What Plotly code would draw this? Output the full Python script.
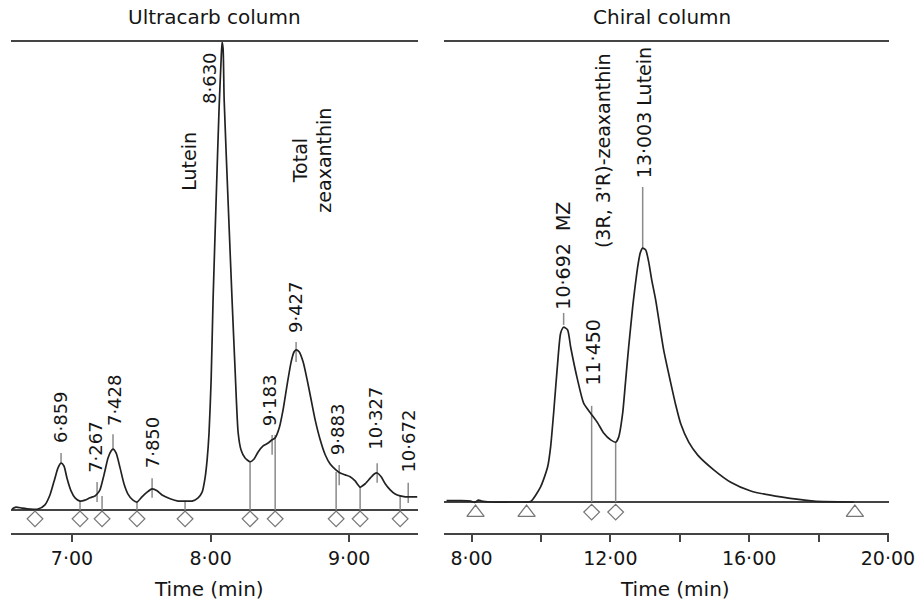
import plotly.graph_objects as go

# ---------------- data: Ultracarb column ----------------
ultra_time = [6.567, 6.596, 6.639, 6.697, 6.755, 6.805, 6.841, 6.877, 6.899, 6.921, 6.942, 6.964, 6.993,
              7.022, 7.058, 7.094, 7.130, 7.166, 7.181, 7.202, 7.231, 7.260, 7.282, 7.296, 7.318, 7.347,
              7.375, 7.404, 7.440, 7.469, 7.505, 7.542, 7.578, 7.614, 7.650, 7.708, 7.765, 7.816, 7.866,
              7.910, 7.939, 7.960, 7.975, 7.989, 8.004, 8.018, 8.040, 8.061, 8.076, 8.083, 8.090, 8.098,
              8.126, 8.155, 8.177, 8.199, 8.220, 8.249, 8.285, 8.314, 8.343, 8.379, 8.415, 8.444, 8.466,
              8.495, 8.523, 8.552, 8.581, 8.603, 8.617, 8.639, 8.668, 8.697, 8.726, 8.755, 8.791, 8.827,
              8.863, 8.906, 8.935, 8.971, 9.007, 9.043, 9.079, 9.116, 9.152, 9.181, 9.202, 9.231, 9.260,
              9.296, 9.332, 9.368, 9.404, 9.440, 9.491]
ultra_signal = [0.2, 0.6, 0.4, 0.2, 0.2, 1.1, 3.2, 6.8, 9.0, 10.0, 9.4, 6.8, 4.1,
                2.6, 1.9, 2.1, 2.6, 3.0, 3.4, 4.3, 7.5, 11.1, 12.6, 13.0, 12.2, 9.0,
                5.6, 3.4, 2.1, 1.7, 2.8, 3.8, 4.5, 4.1, 3.2, 2.4, 1.9, 1.9, 1.9,
                2.6, 3.8, 6.8, 10.7, 16.5, 27.8, 44.9, 66.2, 85.5, 96.2, 100.0, 98.7, 87.6,
                66.2, 44.9, 29.9, 16.5, 12.8, 11.1, 10.3, 10.9, 12.4, 13.7, 14.3, 15.0, 15.4,
                17.5, 21.4, 26.7, 31.6, 33.8, 34.2, 33.8, 31.6, 27.8, 23.5, 19.2, 15.0, 11.8,
                9.8, 8.5, 7.9, 7.5, 7.1, 6.2, 4.9, 5.6, 6.8, 7.7, 7.9, 7.1, 5.6,
                4.3, 3.4, 3.0, 2.8, 2.8, 2.8]

# peak labels (retention times) and where they sit
ultra_peak_text = ["6·859", "7·267", "7·428", "7·850", "9·183", "9·427", "9·883", "10·327", "10·672"]
ultra_peak_time = [6.921, 7.173, 7.303, 7.578, 8.422, 8.617, 8.913, 9.188, 9.426]
ultra_label_base = [13.9, 7.5, 17.5, 8.5, 17.5, 37.4, 11.3, 12.4, 7.5]
# short marker ticks at peaks
ultra_tick_time = [6.921, 7.181, 7.296, 7.578, 8.444, 8.617, 8.928, 9.202, 9.426]
ultra_tick_lo = [10.0, 1.7, 12.8, 2.6, 11.8, 31.6, 5.3, 5.8, 1.5]
ultra_tick_hi = [12.2, 6.0, 16.2, 6.8, 16.0, 35.9, 9.6, 10.0, 5.8]
# integration boundaries (drop lines + diamonds)
ultra_drop_time = [7.058, 7.217, 7.469, 7.816, 8.285, 8.466, 8.906, 9.079, 9.368]
ultra_drop_top = [1.9, 3.0, 1.7, 1.9, 10.3, 16.0, 8.1, 4.9, 3.0]
ultra_diamond_time = [6.733, 7.058, 7.217, 7.469, 7.816, 8.285, 8.466, 8.906, 9.079, 9.368]

# ---------------- data: Chiral column ----------------
chiral_time = [7.279, 7.683, 7.971, 8.087, 8.202, 8.288, 8.548, 9.125, 9.471, 9.702, 9.990, 10.192,
               10.279, 10.365, 10.481, 10.567, 10.654, 10.769, 10.856, 11.057, 11.230, 11.432, 11.634,
               11.807, 12.009, 12.153, 12.240, 12.355, 12.442, 12.528, 12.644, 12.701, 12.788, 12.860,
               12.932, 13.019, 13.105, 13.192, 13.307, 13.538, 13.740, 13.884, 14.028, 14.259, 14.519,
               14.980, 15.470, 16.047, 16.913, 17.864, 19.018]
chiral_signal = [0.3, 0.3, 0.2, -0.1, 0.4, 0.2, 0.0, 0.0, 0.0, 0.1, 3.3, 7.6,
                 12.0, 19.3, 30.2, 36.7, 38.0, 37.4, 33.7, 26.5, 21.5, 19.3, 17.2,
                 15.0, 13.5, 13.0, 14.1, 19.3, 26.5, 33.7, 42.4, 46.1, 51.1, 54.1,
                 55.2, 54.8, 52.2, 48.3, 43.9, 33.0, 25.9, 21.1, 17.0, 13.0, 10.2,
                 7.0, 4.3, 2.4, 1.1, 0.2, 0.0]
chiral_label_text = ["10·692  MZ", "11·450", "(3R, 3'R)-zeaxanthin", "13·003 Lutein"]
chiral_label_time = [10.625, 11.49, 11.807, 12.961]
chiral_label_base = [41.3, 24.8, 54.8, 70.0]
chiral_tick_time = [10.654, 12.932]
chiral_tick_lo = [38.5, 55.2]
chiral_tick_hi = [41.1, 68.5]
chiral_drop_time = [11.461, 12.153]
chiral_drop_top = [20.9, 13.0]
chiral_triangle_time = [8.115, 9.586, 19.047]
chiral_diamond_time = [11.461, 12.153]

# ---------------- styling ----------------
FONT = "DejaVu Sans"
TXT = "#151515"
CURVE = "#222222"
GREY = "#8a8a8a"
AXC = "#444444"
W, H = 915, 603          # reference frame used for placing the panels
FIG_W = 942              # the page viewport squeezes horizontally; compensate


def segs(xs, lo, hi):
    X, Y = [], []
    for x, a, b in zip(xs, lo, hi):
        X += [x, x, None]
        Y += [a, b, None]
    return X, Y


fig = go.Figure()

# drop lines and peak ticks
for xs, lo, hi, xa, ya in [
    (ultra_drop_time, [0] * len(ultra_drop_time), ultra_drop_top, "x", "y"),
    (ultra_tick_time, ultra_tick_lo, ultra_tick_hi, "x", "y"),
    (chiral_drop_time, [0] * len(chiral_drop_time), chiral_drop_top, "x2", "y2"),
    (chiral_tick_time, chiral_tick_lo, chiral_tick_hi, "x2", "y2"),
]:
    X, Y = segs(xs, lo, hi)
    fig.add_trace(go.Scatter(x=X, y=Y, mode="lines", xaxis=xa, yaxis=ya,
                             line=dict(color=GREY, width=1.5), hoverinfo="skip"))

# chromatograms
fig.add_trace(go.Scatter(x=ultra_time, y=ultra_signal, mode="lines", xaxis="x", yaxis="y",
                         line=dict(color=CURVE, width=1.7, shape="spline", smoothing=0.6)))
fig.add_trace(go.Scatter(x=chiral_time, y=chiral_signal, mode="lines", xaxis="x2", yaxis="y2",
                         line=dict(color=CURVE, width=1.7, shape="spline", smoothing=0.6)))

# boundary markers
fig.add_trace(go.Scatter(x=ultra_diamond_time, y=[-1.9] * len(ultra_diamond_time), mode="markers",
                         xaxis="x", yaxis="y", cliponaxis=False,
                         marker=dict(symbol="diamond-open", size=12, color="#777", line=dict(width=1.3))))
fig.add_trace(go.Scatter(x=chiral_diamond_time, y=[-2.2] * len(chiral_diamond_time), mode="markers",
                         xaxis="x2", yaxis="y2", cliponaxis=False,
                         marker=dict(symbol="diamond-open", size=12, color="#777", line=dict(width=1.3))))
fig.add_trace(go.Scatter(x=chiral_triangle_time, y=[-2.3] * len(chiral_triangle_time), mode="markers",
                         xaxis="x2", yaxis="y2", cliponaxis=False,
                         marker=dict(symbol="triangle-up-open", size=15, color="#777", line=dict(width=1.3))))

ann = []
for t, x, b in zip(ultra_peak_text, ultra_peak_time, ultra_label_base):
    ann.append(dict(x=x, y=b, xref="x", yref="y", text=t, textangle=-90, showarrow=False,
                    xanchor="center", yanchor="bottom", font=dict(size=18)))
ann.append(dict(x=7.996, y=98.3, xref="x", yref="y", text="8·630", textangle=-90, showarrow=False,
                xanchor="center", yanchor="top", font=dict(size=18)))
ann.append(dict(x=7.845, y=67.7, xref="x", yref="y", text="Lutein", textangle=-90, showarrow=False,
                xanchor="center", yanchor="bottom"))
ann.append(dict(x=8.737, y=74.8, xref="x", yref="y", text="Total<br>zeaxanthin", textangle=-90,
                showarrow=False, xanchor="center", yanchor="middle", align="center"))
for t, x, b in zip(chiral_label_text, chiral_label_time, chiral_label_base):
    ann.append(dict(x=x, y=b, xref="x2", yref="y2", text=t, textangle=-90, showarrow=False,
                    xanchor="center", yanchor="bottom"))

# panel titles and axis titles
ann.append(dict(x=0.5, y=1 - 17 / H, xref="x domain", yref="paper", text="Ultracarb column",
                showarrow=False, xanchor="center", yanchor="middle", font=dict(size=20)))
ann.append(dict(x=0.489, y=1 - 17 / H, xref="x2 domain", yref="paper", text="Chiral column",
                showarrow=False, xanchor="center", yanchor="middle", font=dict(size=20)))
ann.append(dict(x=0.486, y=1 - 589 / H, xref="x domain", yref="paper", text="Time (min)",
                showarrow=False, xanchor="center", yanchor="middle", font=dict(size=20)))
ann.append(dict(x=0.518, y=1 - 589 / H, xref="x2 domain", yref="paper", text="Time (min)",
                showarrow=False, xanchor="center", yanchor="middle", font=dict(size=20)))

ydom = [1 - 533 / H, 1 - 42 / H]
xcommon = dict(showgrid=False, zeroline=False, showline=True, mirror=True, linecolor=AXC, linewidth=2,
               ticks="outside", ticklen=7, tickwidth=2, tickcolor=AXC,
               tickfont=dict(size=19, color=TXT, family=FONT))
ycommon = dict(showgrid=False, showticklabels=False, ticks="", showline=False,
               zeroline=True, zerolinecolor=AXC, zerolinewidth=2)

fig.update_layout(
    width=FIG_W, height=H, margin=dict(l=0, r=0, t=0, b=0), autosize=False,
    paper_bgcolor="white", plot_bgcolor="white", showlegend=False,
    font=dict(family=FONT, size=19, color=TXT),
    xaxis=dict(domain=[11 / W, 418 / W], range=[6.56, 9.50], anchor="y",
               tickvals=[7, 8, 9], ticktext=["7·00", "8·00", "9·00"], **xcommon),
    yaxis=dict(domain=ydom, range=[-4.92, 100], anchor="x", **ycommon),
    xaxis2=dict(domain=[444 / W, 888 / W], range=[7.22, 20.03], anchor="y2",
                tickvals=[8, 10, 12, 14, 16, 18, 20],
                ticktext=["8·00", "", "12·00", "", "16·00", "", "20·00"], **xcommon),
    yaxis2=dict(domain=ydom, range=[-6.74, 100], anchor="x2", **ycommon),
    annotations=ann,
)

fig.write_html(
    "out.html",
    config={"responsive": False, "displayModeBar": False},
    post_script="document.body.style.margin='0';document.body.style.overflow='hidden';",
)
